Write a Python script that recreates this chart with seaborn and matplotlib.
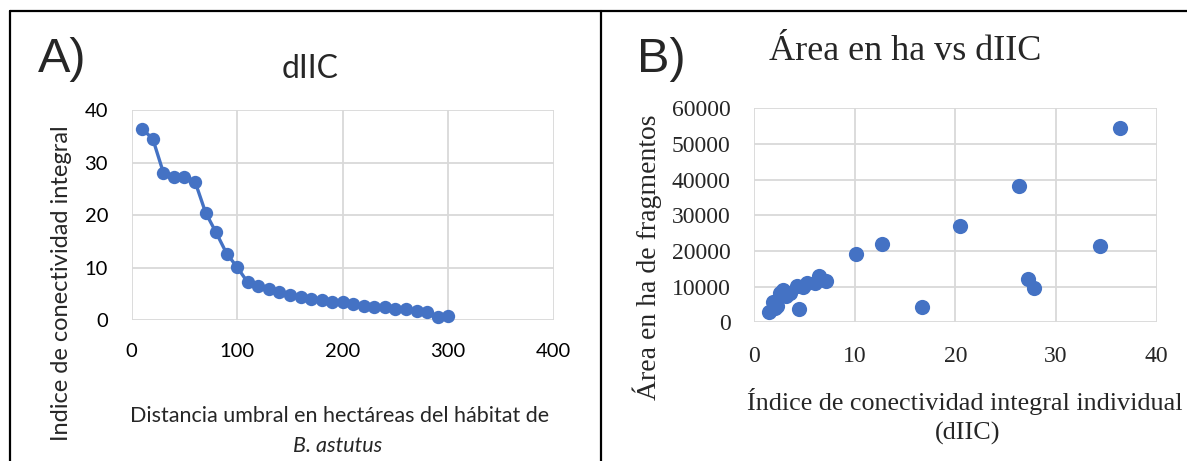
import numpy as np
import pandas as pd
import seaborn as sns
import matplotlib.pyplot as plt
from matplotlib.lines import Line2D

# panel A: dIIC vs threshold distance
distancia = [10, 20, 30, 40, 50, 60, 70, 80, 90, 100, 110, 120, 130, 140, 150,
             160, 170, 180, 190, 200, 210, 220, 230, 240, 250, 260, 270, 280, 290, 300]
diic = [36.4, 34.5, 28.1, 27.3, 27.2, 26.4, 20.5, 16.7, 12.7, 10.1, 7.2, 6.5, 6.0, 5.3, 4.75,
        4.4, 4.1, 3.9, 3.5, 3.4, 3.1, 2.7, 2.6, 2.5, 2.2, 2.1, 1.85, 1.5, 0.7, 0.8]

# panel B: area (ha) vs dIIC
diic_b = [36.4, 26.3, 20.5, 12.7, 10.1, 34.4, 27.2, 27.8, 16.7, 4.5,
          7.15, 6.5, 6.05, 5.3, 4.9, 4.25, 3.6, 2.85, 2.6, 1.9, 2.1, 1.5, 3.2, 2.3]
area_b = [54400, 38100, 27100, 21900, 19200, 21300, 12100, 9500, 4300, 3800,
          11500, 13100, 10900, 11100, 10000, 10200, 8100, 9100, 8100, 5800, 3900, 2900, 7500, 4500]

blue = '#4472C4'
grid = '#D9D9D9'
sans = 'Lato'
serif = 'Liberation Serif'

sns.set_style('white')
plt.rcParams['font.family'] = ['Lato', 'DejaVu Sans']

W, H = 1187, 461
fig = plt.figure(figsize=(W / 100, H / 100), dpi=100)


def box(l, t, r, b):
    return [l / W, 1 - b / H, (r - l) / W, (b - t) / H]


def px(x, y):
    return x / W, 1 - y / H


# ---- A ----
axA = fig.add_axes(box(131.7, 110, 553.7, 320.3))
df_a = pd.DataFrame({'dist': distancia, 'diic': diic})
sns.lineplot(data=df_a, x='dist', y='diic', ax=axA, color=blue, linewidth=2.4,
             marker='o', markersize=9.6, markeredgewidth=0, clip_on=False)
axA.set_xlim(0, 400)
axA.set_ylim(0, 40)
axA.set_xticks([0, 100, 200, 300, 400])
axA.set_yticks([0, 10, 20, 30, 40])
axA.grid(True, color=grid, linewidth=1.3)
axA.set_axisbelow(True)
for s in axA.spines.values():
    s.set_visible(False)
axA.tick_params(length=0, labelsize=14.5, labelcolor='#000000')
axA.tick_params(axis='x', pad=16)
axA.tick_params(axis='y', pad=17)
axA.set_xlabel('')
axA.set_ylabel('')

# ---- B ----
axB = fig.add_axes(box(754, 108.3, 1156.7, 322.3))
df_b = pd.DataFrame({'diic': diic_b, 'area': area_b})
sns.scatterplot(data=df_b, x='diic', y='area', ax=axB, color=blue, s=120,
                linewidth=0, clip_on=False)
axB.set_xlim(0, 40)
axB.set_ylim(0, 60000)
axB.set_xticks([0, 10, 20, 30, 40])
axB.set_yticks(range(0, 60001, 10000))
axB.grid(True, color=grid, linewidth=1.3)
axB.set_axisbelow(True)
for s in axB.spines.values():
    s.set_visible(False)
axB.tick_params(length=0, labelsize=17)
axB.tick_params(axis='x', pad=17)
axB.tick_params(axis='y', pad=17)
for lab in axB.get_xticklabels() + axB.get_yticklabels():
    lab.set_fontfamily(serif)
axB.set_xlabel('')
axB.set_ylabel('')

# ---- texts ----
fig.text(*px(38, 59), 'A)', fontsize=35, family='Liberation Sans', va='center', ha='left')
fig.text(*px(310, 69), 'dIIC', fontsize=23, family=sans, va='center', ha='center')
fig.text(*px(62, 283), 'Indice de conectividad integral', fontsize=17, family=sans,
         rotation=90, va='center', ha='center')
fig.text(*px(340, 416), 'Distancia umbral en hectáreas del hábitat de', fontsize=15.5,
         family=sans, va='center', ha='center')
fig.text(*px(338, 446), 'B. astutus', fontsize=15.5, family=sans, style='italic',
         va='center', ha='center')

fig.text(*px(637, 59), 'B)', fontsize=35, family='Liberation Sans', va='center', ha='left')
fig.text(*px(905, 52), 'Área en ha vs dIIC', fontsize=26, family=serif, va='center', ha='center')
fig.text(*px(647, 257), 'Área en ha de fragmentos', fontsize=20, family=serif,
         rotation=90, va='center', ha='center')
fig.text(*px(965, 401), 'Índice de conectividad integral individual', fontsize=18.8,
         family=serif, va='center', ha='center')
fig.text(*px(968, 433), '(dIIC)', fontsize=18.8, family=serif, va='center', ha='center')

# panel frames
for xs, ys in [([10, 10], [11, 461]), ([10, 1187], [11, 11]), ([601, 601], [11, 461])]:
    fig.add_artist(Line2D([x / W for x in xs], [1 - y / H for y in ys],
                          color='black', linewidth=1.6))

fig.savefig('out.png', dpi=100)
